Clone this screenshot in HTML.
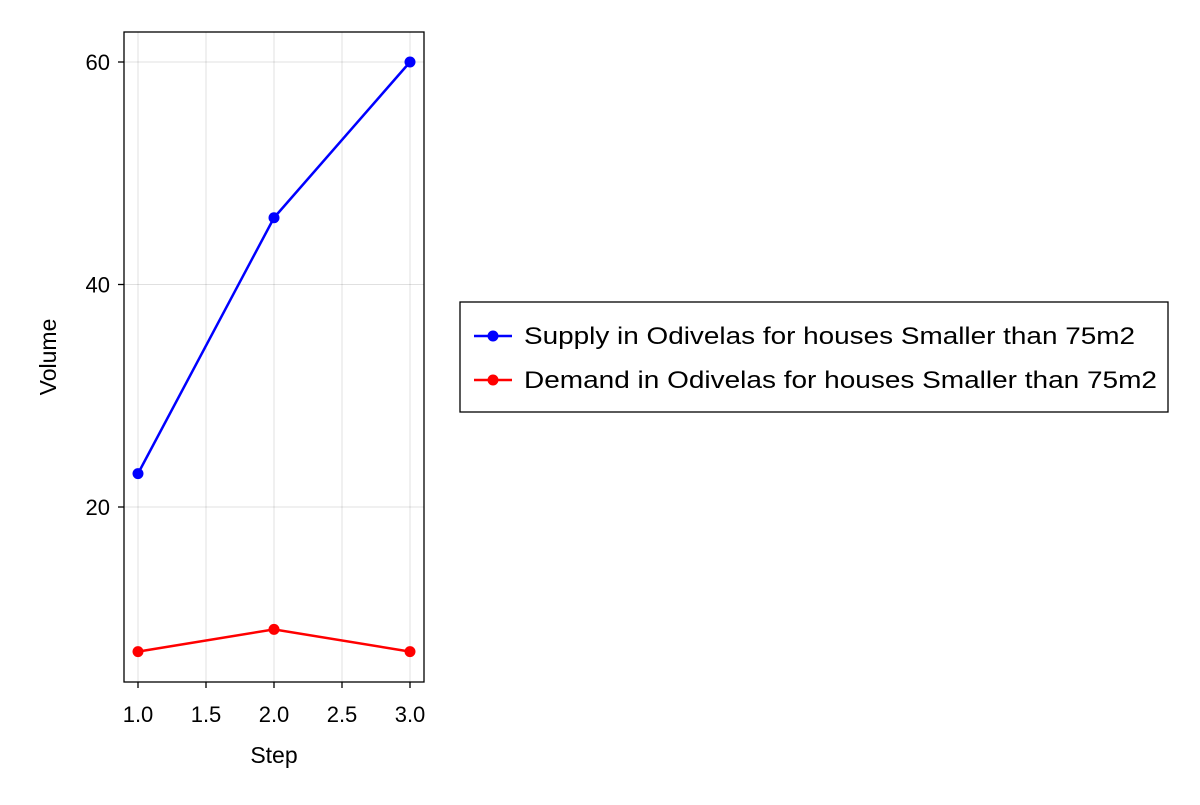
<!DOCTYPE html>
<html><head><meta charset="utf-8"><style>
body{margin:0;background:#fff;}
svg text{font-family:"Liberation Sans",sans-serif;fill:#000;}
</style></head><body>
<svg id="chart" width="1200" height="800" viewBox="0 0 1200 800">
<rect width="1200" height="800" fill="#fff"/>
<g id="grid"></g>
<g id="series"></g>
<rect x="124" y="32" width="300" height="650" fill="none" stroke="#000" stroke-width="1.3"/>
<g id="ticks"></g>
<text x="274" y="763" font-size="23" text-anchor="middle">Step</text>
<text transform="translate(56,357) rotate(-90)" font-size="23" text-anchor="middle">Volume</text>
<g>
<rect x="460" y="302" width="708" height="110" fill="#fff" stroke="#000" stroke-width="1.3"/>
<g>
<line x1="474" y1="336" x2="512" y2="336" stroke="#0000ff" stroke-width="2.5"/>
<circle cx="493" cy="336" r="5.5" fill="#0000ff"/>
<text x="524" y="344" font-size="24" textLength="611" lengthAdjust="spacingAndGlyphs">Supply in Odivelas for houses Smaller than 75m2</text>
</g>
<g>
<line x1="474" y1="380" x2="512" y2="380" stroke="#ff0000" stroke-width="2.5"/>
<circle cx="493" cy="380" r="5.5" fill="#ff0000"/>
<text x="524" y="388" font-size="24" textLength="633" lengthAdjust="spacingAndGlyphs">Demand in Odivelas for houses Smaller than 75m2</text>
</g>
</g>
</svg>
<script>
const steps=[1,2,3];
const supply=[23,46,60];
const demand=[7,9,7];
const xTicks=[1.0,1.5,2.0,2.5,3.0];
const yTicks=[20,40,60];
const NS="http://www.w3.org/2000/svg";
function xs(v){return 138+(v-1)*136;}
function ys(v){return 507-(v-20)*11.125;}
function mk(tag,attrs,parent){const e=document.createElementNS(NS,tag);for(const k in attrs)e.setAttribute(k,attrs[k]);parent.appendChild(e);return e;}
const grid=document.getElementById('grid'),ticks=document.getElementById('ticks'),series=document.getElementById('series');
xTicks.forEach(t=>{
 const g=mk('line',{x1:xs(t),x2:xs(t),y1:32,y2:682,stroke:'#000','stroke-opacity':0.12,'stroke-width':1},grid);
 
 
 const tk=mk('line',{x1:xs(t),x2:xs(t),y1:682,y2:688,stroke:'#000','stroke-width':1.3},ticks);
 
 
 const tx=mk('text',{x:xs(t),y:722,'font-size':22,'text-anchor':'middle'},ticks);
 tx.textContent=t.toFixed(1);
 
 
});
yTicks.forEach(t=>{
 const g=mk('line',{x1:124,x2:424,y1:ys(t),y2:ys(t),stroke:'#000','stroke-opacity':0.12,'stroke-width':1},grid);
 
 
 const tk=mk('line',{x1:118,x2:124,y1:ys(t),y2:ys(t),stroke:'#000','stroke-width':1.3},ticks);
 
 
 const tx=mk('text',{x:110,y:ys(t)+8,'font-size':22,'text-anchor':'end'},ticks);
 tx.textContent=t;
 
 
});
function draw(vals,color,name){
 const pl=mk('polyline',{points:steps.map((s,i)=>xs(s)+','+ys(vals[i])).join(' '),fill:'none',stroke:color,'stroke-width':2.5},series);
 
 
 steps.forEach((s,i)=>{
  const c=mk('circle',{cx:xs(s),cy:ys(vals[i]),r:5.5,fill:color},series);
  
  
 });
}
draw(supply,'#0000ff','supply');
draw(demand,'#ff0000','demand');
</script>
</body></html>
